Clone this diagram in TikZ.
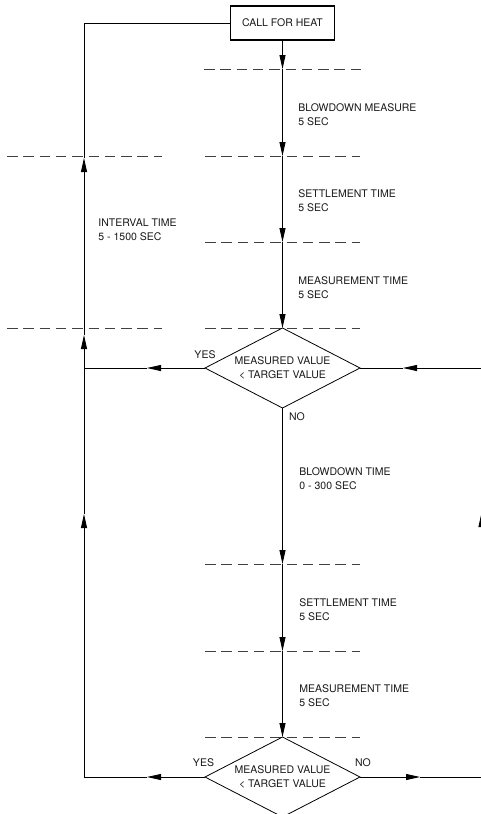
\documentclass[tikz,border=0pt]{standalone}
\usepackage{fontspec}
\setmainfont{TeX Gyre Heros}
\usetikzlibrary{arrows.meta,shapes.geometric}
\begin{document}
\begin{tikzpicture}[x=1pt,y=-1pt,
  line width=0.8pt,
  lbl/.style={font=\fontsize{10.5}{14}\selectfont, inner sep=0pt, text=black!90},
  txt/.style={lbl, align=left, anchor=west},
  flow/.style={-{Triangle[length=14pt,width=6pt]}},
  cut/.style={dash pattern=on 10.5pt off 5.8pt, line width=0.8pt, black!75},
  decision/.style={diamond, draw, minimum width=155pt, minimum height=80pt, inner sep=0pt, outer sep=0pt, aspect=1.94, align=center, lbl},
  startbox/.style={rectangle, draw, line width=1.6pt, minimum width=104pt, minimum height=33.5pt, outer sep=0pt, lbl}]
\fill[white] (0,0) rectangle (480,814);
\useasboundingbox (0,0) rectangle (480,814);

% dashed time markers
\draw[cut] (204,69) -- (361,69);
\draw[cut] (7,156) -- (162,156);
\draw[cut] (205,156) -- (360,156);
\draw[cut] (205,242) -- (360,242);
\draw[cut] (7,328) -- (162,328);
\draw[cut] (205,328) -- (360,328);
\draw[cut] (205,564) -- (360,564);
\draw[cut] (205,651) -- (360,651);
\draw[cut] (205,737) -- (360,737);

% nodes
\node[startbox] (start) at (282.5,23) {CALL FOR HEAT};
\node[decision] (d1) at (282.5,368) {MEASURED VALUE\\< TARGET VALUE};
\node[decision] (d2) at (282.5,777) {MEASURED VALUE\\< TARGET VALUE};

% main line points
\coordinate (m1) at (282.5,69);
\coordinate (m2) at (282.5,156);
\coordinate (m3) at (282.5,242);
\coordinate (m5) at (282.5,564);
\coordinate (m6) at (282.5,651);

\draw[flow] (start.south) -- (m1);
\draw[flow] (m1) -- (m2);
\draw[flow] (m2) -- (m3);
\draw[flow] (m3) -- (d1.north);
\draw[flow] (d1.south) -- (m5);
\draw[flow] (m5) -- (m6);
\draw[flow] (m6) -- (d2.north);

% left loop
\coordinate (lt) at (84,23);
\coordinate (la) at (84,158);
\coordinate (lb) at (84,335);
\coordinate (lj) at (84,368);
\coordinate (lc) at (84,514);
\coordinate (lbot) at (84,777);
\coordinate (ya1) at (147,368);
\coordinate (ya2) at (147,777);

\draw[flow] (d2.west) -- (ya2);
\draw[flow] (ya2) -- (lbot) -- (lc);
\draw[flow] (lc) -- (lb);
\draw[flow] (lb) -- (la);
\draw (la) -- (lt) -- (start.west);
\draw[flow] (d1.west) -- (ya1);
\draw (ya1) -- (lj);

% right loop
\coordinate (rt) at (481.5,368);
\coordinate (ra1) at (403,368);
\coordinate (rc) at (481.5,513);
\coordinate (rbot) at (481.5,777);
\coordinate (ra2) at (420,777);

\draw[flow] (rt) -- (ra1);
\draw (ra1) -- (d1.east);
\draw[flow] (d2.east) -- (ra2);
\draw[flow] (ra2) -- (rbot) -- (rc);
\draw (rc) -- (rt);

% labels
\node[lbl] (yes1) at (205,355) {YES};
\node[lbl] (no1) at (297,417) {NO};
\node[lbl] (yes2) at (203.5,763) {YES};
\node[lbl] (no2) at (363,763) {NO};

\node[txt] (t1) at (298,115) {BLOWDOWN MEASURE\\5 SEC};
\node[txt] (t2) at (298,201) {SETTLEMENT TIME\\5 SEC};
\node[txt] (t3) at (298,287.5) {MEASUREMENT TIME\\5 SEC};
\node[txt] (t4) at (98,230) {INTERVAL TIME\\5 - 1500 SEC};
\node[txt] (t5) at (299,479) {BLOWDOWN TIME\\0 - 300 SEC};
\node[txt] (t6) at (299,610) {SETTLEMENT TIME\\5 SEC};
\node[txt] (t7) at (299,696) {MEASUREMENT TIME\\5 SEC};
\end{tikzpicture}
\end{document}
